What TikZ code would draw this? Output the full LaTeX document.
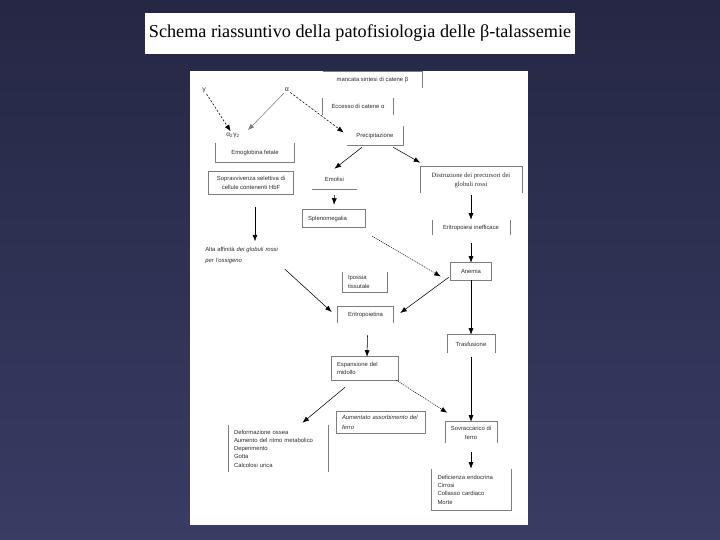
\documentclass[tikz,border=0pt]{standalone}
\usepackage{fontspec}
\setmainfont{Liberation Sans}
\newfontfamily\timesfont{Liberation Serif}
\usetikzlibrary{arrows.meta, calc}

\definecolor{bgtop}{RGB}{37,39,68}
\definecolor{bgbot}{RGB}{57,60,99}
\definecolor{rimgray}{RGB}{125,125,125}
\definecolor{txt}{RGB}{45,45,45}

\tikzset{
  lbl/.style={font=\fontsize{5.9}{8}\selectfont, text=txt, inner sep=0pt},
  lft/.style={lbl, align=left, inner xsep=5pt},
  rim/.style={draw=rimgray, line width=0.5pt},
  dsh/.style={dash pattern=on 2.2pt off 1.6pt},
  dot/.style={dash pattern=on 1pt off 1pt},
}

\begin{document}
\begin{tikzpicture}[x=1pt, y=-1pt, >={Latex[length=6.5pt,width=5pt]}, line width=0.55pt]

    \useasboundingbox (0,0) rectangle (720,540);
    \shade[top color=bgtop, bottom color=bgbot] (0,0) rectangle (720,540);

    % -------------------------------------------------------------
    % Title and sheet
    % -------------------------------------------------------------
    \node (Title) [fill=white, minimum width=430pt, minimum height=41pt, inner sep=0pt,
        font=\timesfont\fontsize{18.2}{20}\selectfont] at (360,33.5)
        {Schema riassuntivo della patofisiologia delle β-talassemie};
    \fill[white] (190,71) rectangle (528,525);

    % -------------------------------------------------------------
    % Top: chains
    % -------------------------------------------------------------
    \node (Manc) [lbl, minimum width=99pt, minimum height=16pt] at (372.5,80) {mancata sintesi di catene β};
    \draw[rim] (Manc.north west) -- (Manc.north east) -- (Manc.south east);

    \node (Gam) [lbl, font=\fontsize{7}{8}\selectfont, inner sep=1pt] at (204,90) {γ};
    \node (Alf) [lbl, font=\fontsize{7}{8}\selectfont, inner sep=1pt] at (287,90) {α};

    \node (Ecc) [lbl, minimum width=70pt, minimum height=16pt] at (358,106.5) {Eccesso di catene α};
    \draw[rim] (Ecc.north west) -- (Ecc.south west);
    \draw[rim] (Ecc.north east) -- (Ecc.south east);

    \node (AG) [lbl, font=\fontsize{6.5}{8}\selectfont, inner sep=1pt] at (233,135) {α\textsubscript{2}γ\textsubscript{2}};

    \node (HbF) [lbl, minimum width=78pt, minimum height=19pt] at (255,152.5) {Emoglobina fetale};
    \draw[rim] (HbF.north west) -- (HbF.south west) -- (HbF.south east) -- (HbF.north east);

    \node (Prec) [lbl, minimum width=56pt, minimum height=19pt] at (375,135.5) {Precipitazione};
    \draw[rim] (Prec.north east) -- (Prec.south east) -- (Prec.south west);

    \draw[->, dsh] (Gam) -- (AG);
    \draw[->, draw=gray] (Alf) -- ($(AG.north east)+(7,-1)$);
    \draw[->, dsh] (Alf) -- ($(Prec.west)+(-3,-3)$);

    % -------------------------------------------------------------
    % Middle
    % -------------------------------------------------------------
    \node (Emol) [lbl, minimum width=45pt, minimum height=20pt] at (334.5,179) {Emolisi};
    \draw[rim] (Emol.south west) -- (Emol.south east);

    \node (Sopr) [lbl, align=center, font=\fontsize{5.9}{8.5}\selectfont,
        minimum width=84pt, minimum height=22pt] at (251,183)
        {Sopravvivenza selettiva di\\cellule contenenti HbF};
    \draw[rim] (Sopr.north west) rectangle (Sopr.south east);

    \node (Distr) [lbl, align=center, font=\timesfont\fontsize{6.6}{9}\selectfont,
        minimum width=101pt, minimum height=26pt] at (471,180)
        {Distruzione dei precursori dei\\globuli rossi};
    \draw[rim] (Distr.south west) -- (Distr.north west) -- (Distr.north east) -- (Distr.south east);

    \draw[->] ([xshift=-13pt, yshift=-2pt]Prec.south) -- (Emol.north);
    \draw[->] ([xshift=-10pt, yshift=-2pt]Prec.south east) -- ([yshift=4pt]Distr.north west);

    \node (Splen) [lft, text width=52pt, minimum height=17pt] at (334,218.5) {Splenomegalia};
    \draw[rim] (Splen.north west) rectangle (Splen.south east);
    \draw[->] ([yshift=-6pt]Emol.south) -- ([yshift=5pt]Splen.north);

    \node (Eritr) [lbl, minimum width=77pt, minimum height=15pt] at (471,227.5) {Eritropoiesi inefficace};
    \draw[rim] (Eritr.north west) -- (Eritr.south west);
    \draw[rim] (Eritr.north east) -- (Eritr.south east);
    \draw[->] ([yshift=-2pt]Distr.south) -- (Eritr.north);

    \node (Alta) [lft, anchor=north west, text width=85pt, inner xsep=2pt,
        font=\fontsize{5.9}{11}\selectfont] at (203,247)
        {Alta affinità \textit{dei globuli rossi}\\\textit{per l'ossigeno}};
    \draw[->] ([xshift=4pt, yshift=-13pt]Sopr.south) -- ([xshift=4pt, yshift=-47pt]Sopr.south);

    \node (Anem) [lbl, minimum width=40pt, minimum height=17pt] at (471,271.5) {Anemia};
    \draw[rim] (Anem.north west) rectangle (Anem.south east);
    \draw[->] ([yshift=-8pt]Eritr.south) -- (Anem.north);
    \draw[->, dot] ([xshift=7pt, yshift=-9pt]Splen.south east) -- ([xshift=-10pt, yshift=-5pt]Anem.west);

    \node (Ipos) [lft, text width=34pt, minimum height=20pt,
        font=\fontsize{5.9}{9}\selectfont] at (365,282) {Ipossia\\tissutale};
    \draw[rim] (Ipos.north west) -- (Ipos.south west) -- (Ipos.south east) -- (Ipos.north east);

    \node (Epo) [lbl, minimum width=55pt, minimum height=16pt] at (365.5,315) {Eritropoietina};
    \draw[rim] (Epo.south west) -- (Epo.north west) -- (Epo.north east) -- (Epo.south east);

    \draw[->] ([xshift=37pt, yshift=-5pt]Alta.south) -- ([xshift=-6pt, yshift=3pt]Epo.west);
    \draw[->] ([xshift=-2pt, yshift=3pt]Anem.south west) -- ([xshift=7pt, yshift=2pt]Epo.east);

    \node (Trasf) [lbl, minimum width=47pt, minimum height=18pt] at (471,344) {Trasfusione};
    \draw[rim] (Trasf.south west) -- (Trasf.north west) -- (Trasf.north east) -- (Trasf.south east);
    \draw[->] (Anem.south) -- (Trasf.north);

    % -------------------------------------------------------------
    % Bottom: marrow and iron
    % -------------------------------------------------------------
    \node (Esp) [lft, text width=56pt, minimum height=23pt] at (365,368.5) {Espansione del\\midollo};
    \draw[rim] (Esp.north west) rectangle (Esp.south east);
    \draw[->] ([xshift=2pt, yshift=-12pt]Epo.south) -- ([xshift=2pt]Esp.north);

    \node (Aum) [lft, text width=78pt, minimum height=21pt,
        font=\fontsize{5.9}{10}\selectfont\itshape] at (381,422.5)
        {Aumentato assorbimento del\\ferro};
    \draw[rim] (Aum.north west) rectangle (Aum.south east);

    \node (Def) [lft, text width=89pt, minimum height=47pt,
        font=\fontsize{5.9}{8.2}\selectfont] at (278.5,448.5)
        {Deformazione ossea\\Aumento del ritmo metabolico\\Deperimento\\Gotta\\Calcolosi urica};
    \draw[rim] (Def.north west) -- (Def.south west);
    \draw[rim] (Def.north east) -- (Def.south east);

    \node (Sovr) [lbl, align=center, font=\fontsize{5.9}{9}\selectfont,
        minimum width=51pt, minimum height=21pt] at (471,432.5) {Sovraccarico di\\ferro};
    \draw[rim] (Sovr.south west) -- (Sovr.north west) -- (Sovr.north east) -- (Sovr.south east);

    \draw[->] ([xshift=-20pt, yshift=-7pt]Esp.south) -- ([xshift=24pt, yshift=2pt]Def.north);
    \draw[->, dot] ([xshift=-2pt]Esp.south east) -- ([xshift=2pt, yshift=9pt]Sovr.north west);
    \draw[->] ([yshift=-4pt]Trasf.south) -- (Sovr.north);

    \node (Defi) [lft, text width=67pt, inner xsep=6pt, minimum height=41pt,
        font=\fontsize{5.9}{8.3}\selectfont] at (471,489.5)
        {Deficienza endocrina\\Cirrosi\\Collasso cardiaco\\Morte};
    \draw[rim] (Defi.north west) -- (Defi.south west) -- (Defi.south east) -- (Defi.north east);
    \draw[->] ([yshift=-9pt]Sovr.south) -- (Defi.north);

\end{tikzpicture}
\end{document}
